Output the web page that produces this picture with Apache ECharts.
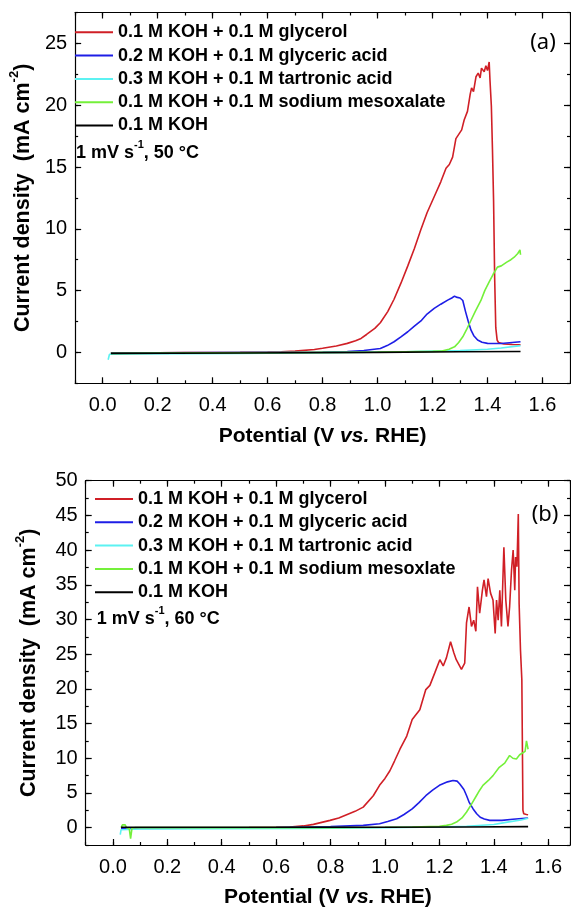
<!DOCTYPE html>
<html>
<head>
<meta charset="utf-8">
<script src="https://cdn.jsdelivr.net/npm/echarts@6/dist/echarts.min.js"></script>
<style>
  html, body { margin: 0; padding: 0; background: #ffffff; }
  #chart { width: 571px; height: 909px; }
</style>
</head>
<body>
<div id="chart"></div>
<script>
// Linear sweep voltammograms, 1 mV/s, at 50 °C (a) and 60 °C (b)

const namesA = [
  '0.1 M KOH + 0.1 M glycerol',
  '0.2 M KOH + 0.1 M glyceric acid',
  '0.3 M KOH + 0.1 M tartronic acid',
  '0.1 M KOH + 0.1 M sodium mesoxalate',
  '0.1 M KOH'
];
const namesB = [
  '0.1 M KOH + 0.1 M glycerol',
  '0.2 M KOH + 0.1 M glyceric acid',
  '0.3 M KOH + 0.1 M tartronic acid',
  '0.1 M KOH + 0.1 M sodium mesoxlate',
  '0.1 M KOH'
];
const colors = ['#d01f26', '#1e1ee6', '#5cf2f2', '#74f03a', '#000000'];

const potentialTicks = [0, 0.2, 0.4, 0.6, 0.8, 1.0, 1.2, 1.4, 1.6];
const potentialTickLabels = ['0.0', '0.2', '0.4', '0.6', '0.8', '1.0', '1.2', '1.4', '1.6'];
const currentTicksA = [0, 5, 10, 15, 20, 25];
const currentTicksB = [0, 5, 10, 15, 20, 25, 30, 35, 40, 45, 50];

// ---- panel (a), 50 °C ----
const aGlycerolE = [0.03, 0.10, 0.20, 0.30, 0.40, 0.50, 0.60, 0.65, 0.70, 0.77, 0.80, 0.85, 0.89, 0.92, 0.94, 0.96, 0.99, 1.01, 1.037, 1.06, 1.085, 1.11, 1.134, 1.157, 1.18, 1.212, 1.23, 1.249, 1.261, 1.273, 1.285, 1.297, 1.306, 1.315, 1.327, 1.337, 1.342, 1.349, 1.358, 1.366, 1.373, 1.378, 1.388, 1.394, 1.40, 1.406, 1.409, 1.414, 1.418, 1.422, 1.426, 1.43, 1.435, 1.44, 1.46, 1.49, 1.52];
const aGlycerolI = [-0.05, -0.04, -0.03, -0.02, -0.01, 0.0, 0.03, 0.05, 0.10, 0.24, 0.33, 0.52, 0.73, 0.95, 1.13, 1.45, 1.94, 2.4, 3.3, 4.3, 5.6, 7.0, 8.4, 9.9, 11.3, 12.9, 13.8, 14.9, 15.2, 15.8, 17.3, 17.7, 18.0, 18.8, 19.5, 20.9, 21.4, 21.1, 22.3, 22.6, 22.2, 23.0, 22.7, 23.2, 22.8, 23.5, 22.0, 19.9, 16.4, 12.3, 6.0, 2.0, 1.0, 0.8, 0.68, 0.64, 0.62];

const aGlycericE = [0.03, 0.2, 0.4, 0.6, 0.8, 0.89, 0.95, 1.01, 1.035, 1.06, 1.085, 1.11, 1.135, 1.16, 1.18, 1.206, 1.23, 1.255, 1.27, 1.28, 1.29, 1.30, 1.31, 1.32, 1.33, 1.34, 1.35, 1.364, 1.38, 1.40, 1.45, 1.52];
const aGlycericI = [-0.05, -0.04, -0.02, 0.0, 0.03, 0.07, 0.15, 0.32, 0.55, 0.86, 1.25, 1.67, 2.15, 2.6, 3.1, 3.56, 3.9, 4.23, 4.4, 4.55, 4.45, 4.4, 4.2, 3.3, 2.5, 1.8, 1.35, 1.0, 0.82, 0.73, 0.72, 0.86];

const aTartronicE = [0.02, 0.025, 0.03, 0.1, 0.3, 0.5, 0.7, 0.9, 1.1, 1.2, 1.3, 1.4, 1.45, 1.52];
const aTartronicI = [-0.6, -0.15, -0.12, -0.12, -0.1, -0.08, -0.05, 0.0, 0.05, 0.1, 0.15, 0.25, 0.35, 0.55];

const aMesoxalateE = [0.03, 0.2, 0.4, 0.6, 0.8, 1.0, 1.1, 1.2, 1.23, 1.26, 1.28, 1.295, 1.31, 1.325, 1.34, 1.355, 1.376, 1.39, 1.406, 1.42, 1.436, 1.45, 1.47, 1.485, 1.497, 1.51, 1.518, 1.52];
const aMesoxalateI = [-0.08, -0.06, -0.04, -0.02, 0.0, 0.02, 0.05, 0.08, 0.1, 0.25, 0.45, 0.8, 1.26, 1.9, 2.6, 3.3, 4.2, 5.0, 5.7, 6.3, 6.9, 7.0, 7.3, 7.5, 7.7, 8.0, 8.3, 7.9];

const aKohE = [0.03, 0.5, 1.0, 1.3, 1.52];
const aKohI = [-0.08, -0.05, 0.0, 0.05, 0.07];

// ---- panel (b), 60 °C ----
const bGlycerolE = [0.03, 0.1, 0.3, 0.5, 0.6, 0.65, 0.7, 0.737, 0.798, 0.83, 0.859, 0.89, 0.92, 0.957, 0.98, 1.0, 1.018, 1.035, 1.055, 1.08, 1.10, 1.128, 1.15, 1.165, 1.183, 1.2016, 1.214, 1.226, 1.241, 1.253, 1.262, 1.281, 1.293, 1.2996, 1.309, 1.318, 1.326, 1.334, 1.340, 1.348, 1.358, 1.364, 1.373, 1.379, 1.388, 1.397, 1.405, 1.41, 1.416, 1.422, 1.428, 1.437, 1.444, 1.452, 1.458, 1.465, 1.471, 1.477, 1.48, 1.485, 1.490, 1.493, 1.498, 1.503, 1.507, 1.51, 1.52, 1.526];
const bGlycerolI = [-0.05, -0.05, -0.03, 0.0, 0.05, 0.1, 0.25, 0.47, 1.05, 1.4, 1.86, 2.35, 2.96, 4.6, 6.1, 7.1, 8.2, 9.6, 11.3, 13.2, 15.6, 17.0, 19.9, 20.5, 22.3, 24.2, 23.3, 24.5, 26.8, 25.2, 24.2, 22.8, 23.7, 29.5, 31.8, 29.0, 29.9, 28.3, 34.7, 30.9, 34.2, 35.7, 33.3, 35.9, 33.8, 32.8, 28.0, 32.8, 29.9, 34.2, 29.0, 40.4, 32.8, 29.0, 31.8, 37.1, 40.0, 34.2, 39.0, 37.6, 45.2, 32.3, 25.6, 21.3, 2.5, 2.0, 1.9, 1.86];

const bGlycericE = [0.03, 0.3, 0.6, 0.8, 0.92, 0.98, 1.01, 1.043, 1.07, 1.10, 1.125, 1.15, 1.175, 1.20, 1.23, 1.25, 1.265, 1.275, 1.29, 1.30, 1.31, 1.324, 1.337, 1.35, 1.365, 1.385, 1.43, 1.47, 1.526];
const bGlycericI = [-0.1, -0.08, 0.0, 0.15, 0.33, 0.57, 0.9, 1.29, 1.9, 2.7, 3.6, 4.6, 5.4, 6.1, 6.6, 6.8, 6.7, 6.3, 5.5, 4.6, 3.6, 2.7, 2.0, 1.5, 1.25, 1.05, 1.05, 1.2, 1.4];

const bTartronicE = [0.027, 0.03, 0.035, 0.1, 0.4, 0.7, 1.0, 1.2, 1.3, 1.4, 1.45, 1.5, 1.526];
const bTartronicI = [-1.0, -0.3, -0.2, -0.2, -0.15, -0.1, 0.0, 0.1, 0.2, 0.45, 0.8, 1.1, 1.35];

const bMesoxalateE = [0.03, 0.035, 0.04, 0.045, 0.05, 0.06, 0.065, 0.07, 0.08, 0.2, 0.5, 0.8, 1.0, 1.1, 1.2, 1.226, 1.245, 1.263, 1.283, 1.30, 1.318, 1.336, 1.348, 1.36, 1.38, 1.397, 1.42, 1.44, 1.458, 1.47, 1.483, 1.495, 1.507, 1.515, 1.52, 1.526];
const bMesoxalateI = [0.0, 0.4, 0.5, 0.4, 0.0, -0.1, -1.6, -0.1, 0.0, 0.0, 0.0, 0.0, 0.05, 0.1, 0.2, 0.33, 0.5, 0.8, 1.4, 2.25, 3.4, 4.6, 5.4, 6.1, 6.8, 7.5, 8.7, 9.3, 10.4, 10.0, 9.9, 10.5, 10.8, 11.0, 12.5, 11.3];

const bKohE = [0.03, 0.5, 1.0, 1.3, 1.526];
const bKohI = [0.05, 0.05, 0.05, 0.1, 0.15];

const FONT = '"Liberation Sans", Arial, sans-serif';

function pairs(xs, ys) {
  return xs.map((x, i) => [x, ys[i]]);
}

// one frame side: a main axis (line, major ticks, optional labels) plus a minor-tick axis
function xPair(grid, pos, min, max, withLabels, name) {
  const main = {
    type: 'value', gridIndex: grid, position: pos, min: min, max: max,
    axisLine: { show: true, onZero: false, lineStyle: { color: '#000', width: 1.2 } },
    axisTick: { show: true, inside: true, length: 6, customValues: potentialTicks, lineStyle: { color: '#000', width: 1.2 } },
    axisLabel: withLabels ? {
      show: true, customValues: potentialTicks, margin: 12,
      fontSize: 20, fontFamily: FONT, color: '#000',
      formatter: v => potentialTickLabels[potentialTicks.findIndex(t => Math.abs(t - v) < 1e-6)] || ''
    } : { show: false },
    splitLine: { show: false }
  };
  if (name) {
    main.name = '{b|Potential (V }{i|vs.}{b| RHE)}';
    main.nameLocation = 'middle';
    main.nameGap = 42;
    main.nameTextStyle = {
      rich: {
        b: { fontSize: 21, fontWeight: 'bold', fontFamily: FONT, color: '#000' },
        i: { fontSize: 21, fontWeight: 'bold', fontStyle: 'italic', fontFamily: FONT, color: '#000' }
      }
    };
  }
  const minor = {
    type: 'value', gridIndex: grid, position: pos, min: min, max: max, interval: 0.1,
    axisLine: { show: false, onZero: false },
    axisTick: { show: true, inside: true, length: 3, lineStyle: { color: '#000', width: 1.2 } },
    axisLabel: { show: false },
    splitLine: { show: false }
  };
  return [main, minor];
}

function yPair(grid, pos, min, max, ticks, withLabels, nameGap) {
  const main = {
    type: 'value', gridIndex: grid, position: pos, min: min, max: max,
    axisLine: { show: true, onZero: false, lineStyle: { color: '#000', width: 1.2 } },
    axisTick: { show: true, inside: true, length: 6, customValues: ticks, lineStyle: { color: '#000', width: 1.2 } },
    axisLabel: withLabels ? {
      show: true, customValues: ticks, margin: 8,
      fontSize: 20, fontFamily: FONT, color: '#000'
    } : { show: false },
    splitLine: { show: false }
  };
  if (nameGap) {
    main.name = '{b|Current density  (mA cm}{s|-2}{b|)}';
    main.nameLocation = 'middle';
    main.nameGap = nameGap;
    main.nameTextStyle = {
      rich: {
        b: { fontSize: 21.5, fontWeight: 'bold', fontFamily: FONT, color: '#000', lineHeight: 26, verticalAlign: 'bottom' },
        s: { fontSize: 13, fontWeight: 'bold', fontFamily: FONT, color: '#000', lineHeight: 13, verticalAlign: 'top' }
      }
    };
  }
  const minor = {
    type: 'value', gridIndex: grid, position: pos, min: min, max: max, interval: 2.5,
    axisLine: { show: false, onZero: false },
    axisTick: { show: true, inside: true, length: 3, lineStyle: { color: '#000', width: 1.2 } },
    axisLabel: { show: false },
    splitLine: { show: false }
  };
  return [main, minor];
}

const xAxes = [
  ...xPair(0, 'bottom', -0.1, 1.7, true, true),   // 0,1
  ...xPair(0, 'top', -0.1, 1.7, false, false),    // 2,3
  ...xPair(1, 'bottom', -0.1, 1.68, true, true),  // 4,5
  ...xPair(1, 'top', -0.1, 1.68, false, false)    // 6,7
];
const yAxes = [
  ...yPair(0, 'left', -2.5, 27.5, currentTicksA, true, 36),   // 0,1
  ...yPair(0, 'right', -2.5, 27.5, currentTicksA, false, 0),  // 2,3
  ...yPair(1, 'left', -2.5, 50, currentTicksB, true, 46),     // 4,5
  ...yPair(1, 'right', -2.5, 50, currentTicksB, false, 0)     // 6,7
];

const panelA = [
  [aGlycerolE, aGlycerolI], [aGlycericE, aGlycericI], [aTartronicE, aTartronicI],
  [aMesoxalateE, aMesoxalateI], [aKohE, aKohI]
];
const panelB = [
  [bGlycerolE, bGlycerolI], [bGlycericE, bGlycericI], [bTartronicE, bTartronicI],
  [bMesoxalateE, bMesoxalateI], [bKohE, bKohI]
];

function lineSeries(names, panel, xi, yi) {
  return panel.map((d, k) => ({
    name: names[k], type: 'line', xAxisIndex: xi, yAxisIndex: yi,
    data: pairs(d[0], d[1]),
    showSymbol: false, symbol: 'none',
    lineStyle: { color: colors[k], width: 1.6 },
    itemStyle: { color: colors[k] },
    emphasis: { disabled: true },
    z: 2 + k
  }));
}

function legendFor(names, left, top) {
  return {
    data: names, orient: 'vertical', left: left, top: top, padding: 0,
    itemWidth: 38, itemHeight: 2, itemGap: 3.3, icon: 'rect', selectedMode: false,
    textStyle: { fontSize: 18, fontWeight: 'bold', fontFamily: FONT, color: '#000', lineHeight: 20 }
  };
}

function conditionText(x, y, temp) {
  return {
    type: 'text', x: x, y: y,
    style: {
      text: '{b|1 mV s}{s|-1}{b|, ' + temp + ' °C}',
      verticalAlign: 'middle',
      rich: {
        b: { fontSize: 18, fontWeight: 'bold', fontFamily: FONT, fill: '#000', lineHeight: 22, verticalAlign: 'bottom' },
        s: { fontSize: 11, fontWeight: 'bold', fontFamily: FONT, fill: '#000', lineHeight: 11, verticalAlign: 'top' }
      }
    }
  };
}

function panelTag(x, y, tag) {
  return {
    type: 'text', x: x, y: y,
    style: { text: tag, fontSize: 22, fontFamily: '"Noto Sans", sans-serif', fill: '#000', align: 'center', verticalAlign: 'middle' }
  };
}

const chart = echarts.init(document.getElementById('chart'), null, { renderer: 'canvas' });
chart.setOption({
  animation: false,
  backgroundColor: '#ffffff',
  grid: [
    { left: 72, right: 1, top: 12.5, height: 370.8, containLabel: false },
    { left: 85.7, right: 1, top: 480.7, height: 365.6, containLabel: false }
  ],
  xAxis: xAxes,
  yAxis: yAxes,
  legend: [legendFor(namesA, 75, 22.3), legendFor(namesB, 95, 489)],
  series: [...lineSeries(namesA, panelA, 0, 0), ...lineSeries(namesB, panelB, 4, 4)],
  graphic: [
    conditionText(76, 150.7, '50'),
    conditionText(96.7, 616.7, '60'),
    panelTag(543, 43, '(a)'),
    panelTag(545, 515, '(b)')
  ]
});
</script>
</body>
</html>
